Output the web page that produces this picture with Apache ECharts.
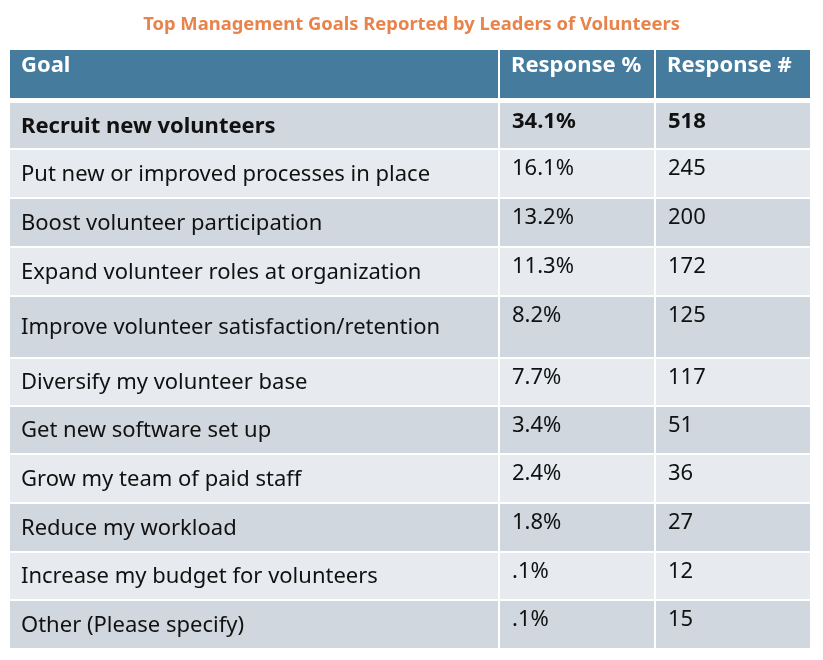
<!DOCTYPE html>
<html>
<head>
<meta charset="UTF-8">
<title>Top Management Goals</title>
<script type="text/javascript" src="https://cdn.jsdelivr.net/npm/echarts@6/dist/echarts.min.js"></script>
<style>
  html, body { margin: 0; padding: 0; background: #fff; }
</style>
</head>
<body>
<div id="main" style="width:823px;height:660px"></div>
<script type="text/javascript">
// table content
var headers = ['Goal', 'Response %', 'Response #'];
var goals = [
  'Recruit new volunteers',
  'Put new or improved processes in place',
  'Boost volunteer participation',
  'Expand volunteer roles at organization',
  'Improve volunteer satisfaction/retention',
  'Diversify my volunteer base',
  'Get new software set up',
  'Grow my team of paid staff',
  'Reduce my workload',
  'Increase my budget for volunteers',
  'Other (Please specify)'
];
var responsePct = ['34.1%', '16.1%', '13.2%', '11.3%', '8.2%', '7.7%', '3.4%', '2.4%', '1.8%', '.1%', '.1%'];
var responseCount = [518, 245, 200, 172, 125, 117, 51, 36, 27, 12, 15];

// layout (axis units = px inside the grid)
var colEdges = [0, 490, 646, 800];
var headerH = 48, headerGap = 5;
var rowH = [47, 49, 49, 49, 62, 48, 48, 49, 49, 48, 49];
var FONT = 'Noto Sans';

function rowTop(r) {
  if (r < 0) return 0;
  var y = headerH + headerGap;
  for (var i = 0; i < r; i++) y += rowH[i];
  return y;
}

function cellText(col, row) {
  if (row < 0) return headers[col];
  if (col === 0) return goals[row];
  if (col === 1) return responsePct[row];
  return String(responseCount[row]);
}

var cells = [];
for (var r = -1; r < goals.length; r++) {
  for (var c = 0; c < headers.length; c++) cells.push([c, r]);
}

var myEcharts = echarts.init(document.getElementById('main'));

var option = {
  animation: false,
  title: {
    text: 'Top Management Goals Reported by Leaders of Volunteers',
    left: 'center',
    top: 11,
    textStyle: { color: '#e8834c', fontSize: 18.4, fontWeight: 'bold', fontFamily: 'Noto Sans' }
  },
  grid: { left: 10, top: 50, width: 800, height: 600 },
  xAxis: { type: 'value', min: 0, max: 800, show: false },
  yAxis: { type: 'value', min: 0, max: 600, inverse: true, show: false },
  series: [{
    type: 'custom',
    data: cells,
    renderItem: function (params, api) {
      var col = api.value(0), row = api.value(1);
      var top = rowTop(row);
      var h = row < 0 ? headerH : rowH[row] - 2;
      var p0 = api.coord([colEdges[col], top]);
      var p1 = api.coord([colEdges[col + 1] - (col < 2 ? 2 : 0), top + h]);
      var fill = row < 0 ? '#457b9c' : (row % 2 === 0 ? '#d0d7df' : '#e7ebf0');
      var isHead = row < 0;
      var bold = isHead || row === 0;
      var txt;
      if (isHead) {
        txt = { x: p0[0] + 11, y: p0[1] + 5, text: cellText(col, row), fill: '#fff',
          font: 'bold 22px ' + FONT, verticalAlign: 'top', align: 'left' };
      } else if (col === 0) {
        txt = { x: p0[0] + 11, y: (p0[1] + p1[1]) / 2 + 1, text: cellText(col, row), fill: '#111',
          font: (bold ? 'bold ' : '') + '22px ' + FONT, verticalAlign: 'middle', align: 'left' };
      } else {
        txt = { x: p0[0] + 12, y: p0[1] + 8, text: cellText(col, row), fill: '#111',
          font: (bold ? 'bold ' : '') + '22px ' + FONT, verticalAlign: 'top', align: 'left' };
      }
      return {
        type: 'group',
        children: [
          { type: 'rect', shape: { x: p0[0], y: p0[1], width: p1[0] - p0[0], height: p1[1] - p0[1] },
            style: { fill: fill } },
          { type: 'text', style: txt }
        ]
      };
    }
  }]
};
myEcharts.setOption(option);
</script>
</body>
</html>
